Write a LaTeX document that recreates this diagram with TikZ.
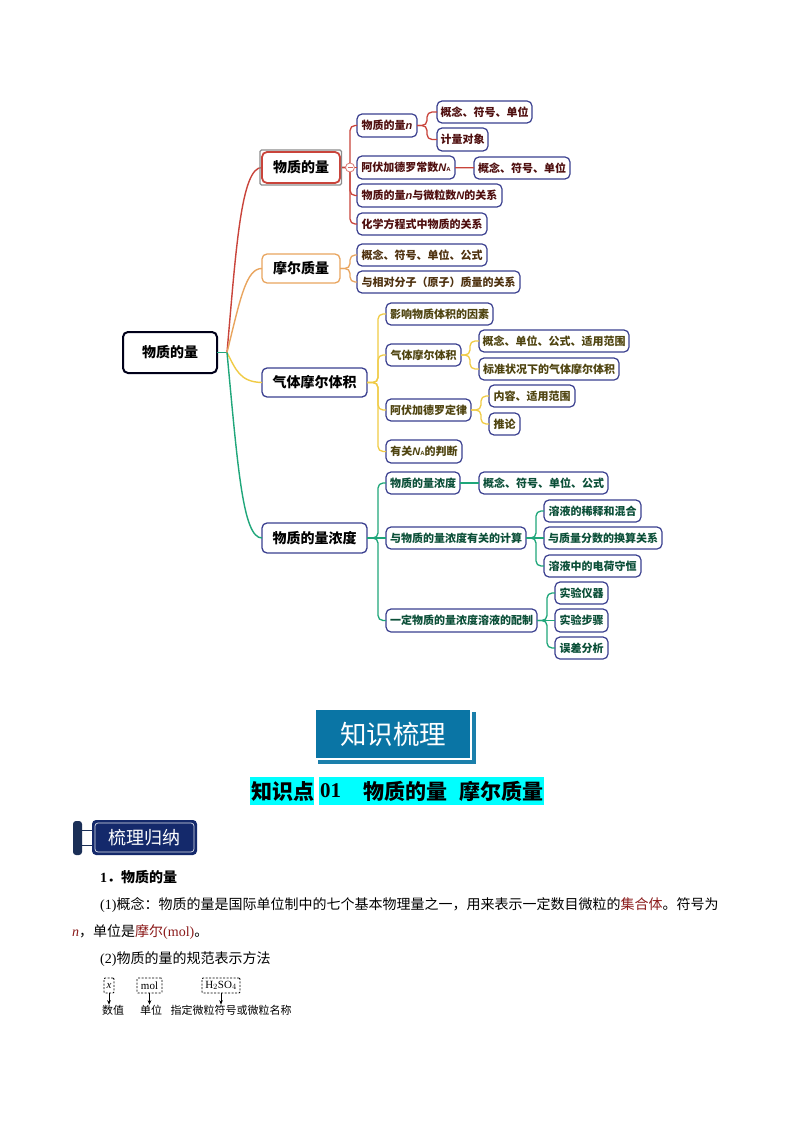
\documentclass[tikz,border=0pt]{standalone}
\usepackage{fontspec}
\setmainfont{Liberation Serif}
\newfontfamily\cjk{Noto Sans CJK SC}
\newfontfamily\lsans{Liberation Sans}
\newfontfamily\lserif{Liberation Serif}
\usetikzlibrary{arrows.meta}
\definecolor{rd}{HTML}{C9443B}
\definecolor{og}{HTML}{E9A55F}
\definecolor{yl}{HTML}{F0CB45}
\definecolor{gn}{HTML}{1FA67A}
\definecolor{rdt}{HTML}{4F0F0F}
\definecolor{ogt}{HTML}{4F3210}
\definecolor{ylt}{HTML}{4F4410}
\definecolor{gnt}{HTML}{0B4F38}
\definecolor{edge}{HTML}{3A3F8F}
\definecolor{teal}{HTML}{0A75A5}
\definecolor{tealsh}{HTML}{1B7FAB}
\definecolor{navy}{HTML}{14296B}
\definecolor{navybar}{HTML}{1B2F57}
\definecolor{word}{HTML}{8B1A1A}
\definecolor{hilite}{HTML}{00FFFF}
\newcommand{\bx}[7]{\pgfmathsetmacro\bw{#4-#3}\pgfmathsetmacro\bh{#6-#5}\node[#2,minimum width=\bw pt,minimum height=\bh pt] (#1) at ({(#3+#4)/2},{(#5+#6)/2}) {#7};}
\newcommand{\branch}[4]{\draw[link,#1] (#2.east) -- ++(#3,0) |- (#4.west);}
\newcommand{\vn}[1]{{\lsans\bfseries\itshape #1}}
\newcommand{\NA}{\vn{N}{\lsans\bfseries\fontsize{6}{6}\selectfont A}}
\tikzset{
 boxbase/.style={draw=edge,rounded corners=5pt,inner sep=0pt,outer sep=0pt,fill=white,align=center},
 rootbox/.style={boxbase,draw=black!90!blue,line width=2pt,font=\cjk\bfseries\fontsize{14}{14}\selectfont},
 topbox/.style={boxbase,line width=1.3pt,font=\cjk\bfseries\fontsize{14}{14}\selectfont},
 leafbox/.style={boxbase,line width=1.2pt,font=\cjk\bfseries\fontsize{11}{11}\selectfont},
 rleaf/.style={leafbox,text=rdt},
 oleaf/.style={leafbox,text=ogt},
 yleaf/.style={leafbox,text=ylt},
 gleaf/.style={leafbox,text=gnt},
 link/.style={line width=1.3pt,rounded corners=5pt},
 trunk/.style={line width=1.4pt},
 bodytext/.style={anchor=west,inner sep=0pt,font=\cjk\fontsize{14}{14}\selectfont},
 smalltext/.style={inner sep=0pt,font=\cjk\fontsize{11}{11}\selectfont},
 dashbox/.style={draw,dashed,line width=0.8pt,dash pattern=on 2pt off 1.5pt,rounded corners=1pt,inner sep=0pt,font=\lserif\fontsize{11}{11}\selectfont},
 pointer/.style={-{Stealth[length=4.5pt,width=3.5pt]},line width=0.6pt},
 headtext/.style={anchor=west,inner sep=0pt,font=\cjk\bfseries\fontsize{21}{21}\selectfont},
}
\begin{document}
\begin{tikzpicture}[x=1pt,y=-1pt]
\useasboundingbox (0,0) rectangle (794,1123);
\fill[white] (0,0) rectangle (794,1123);
\coordinate (hub) at (227,352.5);
\bx{root}{rootbox}{123}{217}{332}{373}{物质的量}
\bx{a}{topbox,draw=rd,line width=1.8pt}{262}{340}{152}{183}{物质的量}
\bx{b}{topbox,draw=og}{262}{340}{254}{283}{摩尔质量}
\bx{c}{topbox}{262}{367}{368}{397}{气体摩尔体积}
\bx{d}{topbox}{262}{367}{523}{553}{物质的量浓度}
\bx{a1}{rleaf}{357}{417}{114}{137}{物质的量\vn{n}}
\bx{a11}{rleaf}{437}{532}{101}{123}{概念、符号、单位}
\bx{a12}{rleaf}{437}{488}{128}{151}{计量对象}
\bx{a2}{rleaf}{357}{455}{156}{179}{阿伏加德罗常数\NA}
\bx{a21}{rleaf}{474}{570}{157}{179}{概念、符号、单位}
\bx{a3}{rleaf}{357}{502}{184}{207}{物质的量\vn{n}与微粒数\vn{N}的关系}
\bx{a4}{rleaf}{357}{487}{213}{235}{化学方程式中物质的关系}
\bx{b1}{oleaf}{357}{487}{244}{266}{概念、符号、单位、公式}
\bx{b2}{oleaf}{357}{520}{271}{293}{与相对分子（原子）质量的关系}
\bx{c1}{yleaf}{386}{493}{303}{325}{影响物质体积的因素}
\bx{c2}{yleaf}{386}{461}{344}{366}{气体摩尔体积}
\bx{c21}{yleaf}{479}{629}{330}{352}{概念、单位、公式、适用范围}
\bx{c22}{yleaf}{479}{619}{358}{380}{标准状况下的气体摩尔体积}
\bx{c3}{yleaf}{386}{471}{399}{421}{阿伏加德罗定律}
\bx{c31}{yleaf}{489}{575}{385}{407}{内容、适用范围}
\bx{c32}{yleaf}{489}{520}{413}{435}{推论}
\bx{c4}{yleaf}{386}{462}{440}{463}{有关\NA 的判断}
\bx{d1}{gleaf}{386}{460}{472}{494}{物质的量浓度}
\bx{d11}{gleaf}{479}{608}{472}{494}{概念、符号、单位、公式}
\bx{d2}{gleaf}{386}{526}{527}{549}{与物质的量浓度有关的计算}
\bx{d21}{gleaf}{544}{641}{500}{522}{溶液的稀释和混合}
\bx{d22}{gleaf}{544}{662}{527}{549}{与质量分数的换算关系}
\bx{d23}{gleaf}{544}{641}{555}{577}{溶液中的电荷守恒}
\bx{d3}{gleaf}{386}{537}{609}{632}{一定物质的量浓度溶液的配制}
\bx{d31}{gleaf}{555}{608}{582}{604}{实验仪器}
\bx{d32}{gleaf}{555}{608}{609}{632}{实验步骤}
\bx{d33}{gleaf}{555}{608}{637}{659}{误差分析}
% main connectors
\draw[trunk,gn] (root.east) -- (hub);
\draw[trunk,rd] (hub) .. controls (236,250) and (241,167) .. (a.west);
\draw[trunk,og] (hub) .. controls (240,300) and (246,268) .. (b.west);
\draw[trunk,yl] (hub) .. controls (236,370) and (240,382) .. (c.west);
\draw[trunk,gn] (hub) .. controls (238,470) and (243,538) .. (d.west);
% branches
\foreach \k in {a1,a3,a4}{\branch{rd}{a}{10}{\k}}
\draw[link,rd] (a.east) -- (a2.west);
\foreach \k in {b1,b2}{\branch{og}{b}{10}{\k}}
\foreach \k in {c1,c2,c3,c4}{\branch{yl}{c}{11}{\k}}
\foreach \k in {d1,d3}{\branch{gn}{d}{11}{\k}}
\draw[link,gn] (d.east) -- (d2.west);
\foreach \k in {a11,a12}{\branch{rd}{a1}{10}{\k}}
\draw[link,rd] (a2) -- (a21);
\foreach \k in {c21,c22}{\branch{yl}{c2}{9}{\k}}
\foreach \k in {c31,c32}{\branch{yl}{c3}{10}{\k}}
\draw[link,gn] (d1) -- (d11);
\foreach \k in {d21,d23}{\branch{gn}{d2}{10}{\k}}
\draw[link,gn] (d2) -- (d22);
\foreach \k in {d31,d33}{\branch{gn}{d3}{10}{\k}}
\draw[link,gn] (d3) -- (d32);
% selection frame and collapse marker
\node[draw=black!45,line width=1.2pt,rounded corners=1.5pt,minimum width=81.5pt,minimum height=35pt,inner sep=0pt] (sel) at (300.7,167.5) {};
\node[circle,draw=rd!70,fill=white,line width=0.8pt,minimum size=9pt,inner sep=0pt] (fold) at (350,167.5) {};
\draw[rd!80,line width=0.8pt] ([xshift=-2.5pt]fold.center) -- ([xshift=2.5pt]fold.center);
% title banner
\fill[tealsh] (318,760) rectangle (476,764);
\fill[tealsh] (472,712) rectangle (476,764);
\node[fill=teal,text=white,minimum width=154pt,minimum height=48pt,inner sep=0pt,font=\cjk\fontsize{26.5}{27}\selectfont] (banner) at (393,734) {知识梳理};
% heading
\fill[hilite] (250,777) rectangle (314,805);
\fill[hilite] (319,777) rectangle (544,805);
\node[headtext] (h1) at (251,791) {知识点};
\node[headtext,font=\lserif\bfseries\fontsize{21}{21}\selectfont] (h2) at (320,791) {01};
\node[headtext] (h3) at (363,791) {物质的量};
\node[headtext] (h4) at (459,791) {摩尔质量};
% tag
\fill[navybar,rounded corners=3pt] (73,821) rectangle (82,855);
\draw[navybar,line width=1pt] (82,830) -- (92,830) (82,845) -- (92,845);
\fill[navy,rounded corners=4pt] (92,820) rectangle (197,855);
\draw[white!85!navy,line width=0.7pt,rounded corners=3pt] (95,823) rectangle (194,852);
\node[text=white,inner sep=0pt,font=\cjk\fontsize{18}{18}\selectfont] (tag) at (144.5,838) {梳理归纳};
% body
\node[bodytext,font=\cjk\bfseries\fontsize{14}{14}\selectfont] (t0) at (100,877) {{\lserif\bfseries 1}．物质的量};
\node[bodytext] (t1) at (100,905) {{\lserif (1)}概念：物质的量是国际单位制中的七个基本物理量之一，用来表示一定数目微粒的\textcolor{word}{集合体}。符号为};
\node[bodytext] (t2) at (72,932) {\textcolor{word}{\lserif\itshape n}，单位是\textcolor{word}{摩尔{\lserif (mol)}}。};
\node[bodytext] (t3) at (100,959) {{\lserif (2)}物质的量的规范表示方法};
% small figure
\node[dashbox,minimum width=10pt,minimum height=15pt] (x) at (109,985.5) {\itshape x};
\node[dashbox,minimum width=25pt,minimum height=15pt] (mol) at (149.5,985.5) {mol};
\node[dashbox,minimum width=38pt,minimum height=15pt] (form) at (221,985.5) {H$_2$SO$_4$};
\node[smalltext] (lx) at (113,1010) {数值};
\node[smalltext] (lm) at (151,1010) {单位};
\node[smalltext] (lf) at (231,1010) {指定微粒符号或微粒名称};
\draw[pointer] (x.south) -- (x.south |- lx.north);
\draw[pointer] (mol.south) -- (mol.south |- lm.north);
\draw[pointer] (form.south) -- (form.south |- lf.north);
\end{tikzpicture}
\end{document}
